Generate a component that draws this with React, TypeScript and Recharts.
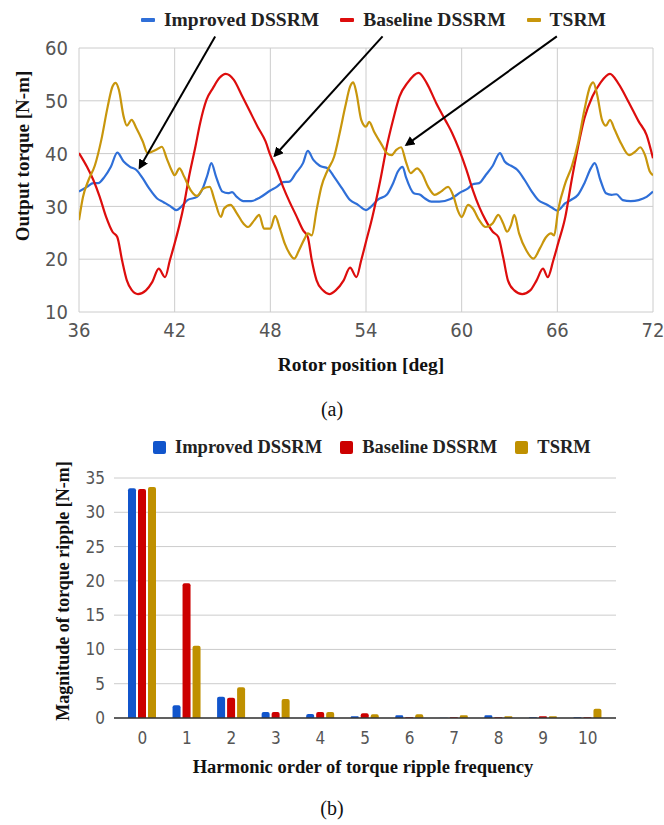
import React from 'react';
import {
  LineChart,
  Line,
  BarChart,
  Bar,
  XAxis,
  YAxis,
  CartesianGrid,
  Legend,
  Label,
  ReferenceLine,
} from 'recharts';

// (a) torque waveforms: rotor position [deg] / torque [N-m]
const improvedPos = [36, 36.5, 36.9, 37.2, 37.6, 38, 38.4, 38.8, 39.2, 39.6, 40, 40.4, 40.9, 41.3, 41.7, 42.1, 42.4, 42.8, 43.4, 43.8, 44.05, 44.3, 44.6, 45, 45.35, 45.6, 45.9, 46.3, 46.8, 47.3, 48, 48.4, 48.8, 49.2, 49.6, 50.05, 50.35, 50.7, 51.1, 51.6, 52, 52.5, 53, 53.5, 54, 54.3, 54.75, 55.3, 55.7, 56, 56.3, 56.5, 57, 57.4, 57.7, 58.1, 58.6, 59.3, 60, 60.4, 60.7, 61.1, 61.5, 61.95, 62.4, 62.7, 63.1, 63.5, 63.95, 64.4, 64.8, 65.3, 65.7, 66, 66.5, 66.9, 67.3, 67.7, 68.1, 68.35, 68.7, 69.05, 69.4, 69.7, 70.1, 70.6, 71.1, 71.6, 72];
const improvedTorque = [32.8, 33.7, 34.4, 34.4, 35.6, 37.5, 40.2, 38.5, 37.5, 36.9, 35.3, 33.4, 31.5, 30.8, 30.1, 29.3, 29.9, 31.2, 31.8, 33.7, 35.9, 38.2, 35.6, 32.8, 32.5, 32.7, 31.8, 31.0, 31.0, 31.6, 33.0, 33.7, 34.6, 34.7, 36.3, 38.2, 40.5, 38.8, 37.7, 37.2, 35.6, 33.4, 31.2, 30.3, 29.3, 29.9, 31.3, 32.2, 34.4, 36.6, 37.5, 35.6, 32.5, 32.2, 31.5, 30.9, 30.9, 31.4, 32.8, 33.4, 34.2, 34.4, 35.9, 37.7, 40.1, 38.5, 37.7, 36.9, 35.0, 32.8, 31.2, 30.4, 29.7, 29.2, 30.6, 31.3, 32.2, 34.4, 37.2, 38.2, 35.0, 32.5, 32.2, 32.3, 31.2, 31.0, 31.2, 31.8, 32.8];

const baselinePos = [36, 36.5, 36.9, 37.3, 37.7, 38.1, 38.4, 38.7, 39, 39.3, 39.7, 40.2, 40.6, 41, 41.4, 41.7, 42, 42.3, 42.6, 42.9, 43.3, 43.6, 44, 44.4, 44.8, 45.2, 45.7, 46.2, 46.7, 47.2, 47.7, 48, 48.4, 48.8, 49.2, 49.6, 50.05, 50.35, 50.6, 50.9, 51.3, 51.7, 52.1, 52.6, 53, 53.4, 53.7, 54, 54.4, 54.9, 55.3, 55.7, 56.1, 56.6, 57.3, 57.8, 58.4, 59, 59.4, 59.85, 60.3, 60.7, 61.1, 61.5, 61.95, 62.3, 62.6, 62.9, 63.3, 63.8, 64.3, 64.7, 65.1, 65.4, 65.75, 66.05, 66.5, 66.9, 67.3, 67.7, 68.2, 68.7, 69.3, 69.8, 70.5, 71.1, 71.6, 72];
const baselineTorque = [40.1, 37.5, 35.0, 31.8, 28.0, 25.2, 24.2, 19.8, 16.0, 14.2, 13.4, 14.1, 15.7, 18.2, 16.6, 19.8, 23.0, 26.5, 30.6, 35.6, 41.3, 45.8, 50.2, 52.4, 54.3, 55.1, 54.0, 51.1, 48.1, 45.1, 42.3, 39.7, 36.9, 33.7, 30.9, 28.4, 25.5, 24.2, 19.8, 16.0, 14.1, 13.4, 14.1, 16.0, 18.4, 16.6, 19.8, 23.3, 28.0, 35.0, 41.3, 46.4, 50.8, 53.4, 55.3, 53.4, 49.6, 46.2, 43.9, 40.7, 36.9, 33.1, 29.9, 27.4, 25.2, 24.2, 20.4, 16.0, 14.1, 13.4, 14.1, 16.0, 18.2, 16.6, 19.8, 23.0, 28.0, 35.0, 41.3, 46.7, 50.8, 53.4, 55.1, 53.4, 49.6, 46.1, 43.5, 39.1];

const tsrmPos = [36, 36.25, 36.6, 37, 37.4, 37.8, 38.1, 38.3, 38.5, 38.8, 39, 39.3, 39.6, 40, 40.3, 40.6, 41, 41.2, 41.5, 41.8, 42, 42.3, 42.6, 43, 43.4, 43.8, 44.2, 44.5, 44.9, 45.1, 45.5, 45.9, 46.3, 46.6, 47, 47.3, 47.6, 48, 48.3, 48.6, 48.9, 49.2, 49.5, 49.8, 50.15, 50.35, 50.6, 50.9, 51.2, 51.6, 52, 52.35, 52.7, 53, 53.2, 53.4, 53.7, 54, 54.2, 54.5, 55, 55.3, 55.6, 55.9, 56.2, 56.5, 56.8, 57.2, 57.5, 57.9, 58.3, 58.7, 59.15, 59.5, 59.75, 60, 60.4, 60.7, 61.1, 61.5, 61.95, 62.3, 62.6, 62.85, 63.1, 63.3, 63.6, 64.05, 64.5, 64.9, 65.3, 65.6, 65.8, 66.05, 66.5, 66.9, 67.3, 67.7, 68.05, 68.25, 68.5, 68.8, 69.05, 69.3, 69.6, 70, 70.5, 70.9, 71.2, 71.5, 71.8, 72];
const tsrmTorque = [27.4, 31.8, 35.0, 37.8, 42.6, 48.9, 52.7, 53.4, 52.1, 47.0, 45.3, 46.4, 44.8, 42.3, 40.1, 40.4, 41.0, 41.3, 39.1, 36.9, 35.9, 37.2, 35.6, 33.1, 32.0, 33.4, 33.7, 31.2, 28.0, 29.6, 30.3, 28.7, 26.8, 26.1, 27.4, 28.4, 25.8, 25.8, 28.2, 25.8, 23.0, 21.1, 20.1, 21.7, 23.9, 24.9, 24.5, 29.3, 33.7, 36.9, 39.4, 43.9, 48.9, 52.7, 53.5, 51.5, 46.4, 45.1, 46.0, 44.2, 41.6, 40.1, 39.7, 40.7, 41.2, 38.5, 36.3, 37.2, 36.3, 33.7, 32.2, 32.8, 33.7, 31.8, 29.3, 28.0, 30.3, 29.6, 27.4, 26.1, 26.8, 28.4, 26.8, 25.2, 26.5, 28.4, 24.9, 21.7, 20.1, 22.0, 24.2, 24.9, 24.5, 29.3, 34.4, 37.5, 42.0, 48.3, 52.7, 53.5, 51.1, 46.4, 45.3, 46.4, 44.5, 41.9, 39.7, 40.4, 41.2, 39.7, 36.6, 35.9];

const positionTicks = [36, 42, 48, 54, 60, 66, 72];
const torqueTicks = [10, 20, 30, 40, 50, 60];

// arrows pointing from the legend down to each curve: [fromX, fromY, toX, toY]
const arrows = [
  [44.54, 62.2, 39.8, 37.3],
  [55.04, 62.2, 48.27, 39.6],
  [65.97, 62.2, 56.53, 41.65],
];

// (b) torque ripple harmonics [N-m]
const harmonics = ['0', '1', '2', '3', '4', '5', '6', '7', '8', '9', '10'];
const improvedRipple = [33.5, 1.85, 3.1, 0.87, 0.58, 0.25, 0.4, 0.02, 0.4, 0.1, 0.1];
const baselineRipple = [33.4, 19.65, 2.95, 0.87, 0.87, 0.68, 0.1, 0.1, 0.1, 0.24, 0.1];
const tsrmRipple = [33.7, 10.55, 4.5, 2.76, 0.87, 0.53, 0.53, 0.39, 0.24, 0.24, 1.35];
const rippleTicks = [0, 5, 10, 15, 20, 25, 30, 35];

const seriesNames = ['Improved DSSRM', 'Baseline DSSRM', 'TSRM'];

const serif = '"Liberation Serif", "Times New Roman", serif';
const narrow = '"Liberation Sans Narrow", "Arial Narrow", "DejaVu Sans Condensed", "Liberation Sans", sans-serif';

const toPoints = (xs: number[], ys: number[]) => xs.map((x, i) => ({ x, y: ys[i] }));
const improvedData = toPoints(improvedPos, improvedTorque);
const baselineData = toPoints(baselinePos, baselineTorque);
const tsrmData = toPoints(tsrmPos, tsrmTorque);

const rippleData = harmonics.map((h, i) => ({
  h,
  improved: improvedRipple[i],
  baseline: baselineRipple[i],
  tsrm: tsrmRipple[i],
}));

const LegendRow = ({ payload, icon, fontSize, gap }: any) => {
  const items = [...(payload || [])].sort(
    (a: any, b: any) => seriesNames.indexOf(a.value) - seriesNames.indexOf(b.value)
  );
  return (
    <div
      style={{
        display: 'flex',
        alignItems: 'center',
        fontFamily: serif,
        fontWeight: 'bold',
        fontSize,
        color: '#222',
        whiteSpace: 'nowrap',
      }}
    >
      {items.map((entry: any, i: number) => (
        <div key={i} style={{ display: 'flex', alignItems: 'center', marginLeft: i ? gap : 0 }}>
          {icon === 'line' ? (
            <span style={{ width: 14, height: 4, background: entry.color, marginRight: 9, borderRadius: 1 }} />
          ) : (
            <span style={{ width: 13, height: 13, background: entry.color, marginRight: 9, borderRadius: 2 }} />
          )}
          <span>{entry.value}</span>
        </div>
      ))}
    </div>
  );
};

// rotated axis title placed inside the y-axis strip
const sideTitle = (text: string, dx: number, dy: number, fontSize: number) => (props: any) => {
  const vb = props.viewBox || {};
  const x = (vb.x || 0) + dx;
  const y = (vb.y || 0) + (vb.height || 0) / 2 + dy;
  return (
    <text
      x={x}
      y={y}
      transform={`rotate(-90 ${x} ${y})`}
      textAnchor="middle"
      dominantBaseline="central"
      fontFamily={serif}
      fontWeight="bold"
      fontSize={fontSize}
      fill="#111"
    >
      {text}
    </text>
  );
};

const arrowShape = (props: any) => (
  <line
    x1={props.x1}
    y1={props.y1}
    x2={props.x2}
    y2={props.y2}
    stroke="#000"
    strokeWidth={2}
    markerEnd="url(#arrowHead)"
  />
);

const titleStyle = { fill: '#111', fontFamily: serif, fontWeight: 'bold' as const };

export default function App() {
  return (
    <div style={{ position: 'absolute', left: 0, top: 0, width: 664, height: 825, background: '#fff' }}>
      <svg width={0} height={0} style={{ position: 'absolute' }}>
        <defs>
          <marker id="arrowHead" viewBox="0 0 10 10" refX={8} refY={5} markerWidth={5} markerHeight={5} orient="auto">
            <path d="M0,0 L10,5 L0,10 z" fill="#000" />
          </marker>
        </defs>
      </svg>

      <div style={{ position: 'absolute', left: 0, top: 0 }}>
        <LineChart width={664} height={395} margin={{ top: 48, right: 11, bottom: 53, left: 0 }}>
          <CartesianGrid stroke="#cccccc" />
          <XAxis
            type="number"
            dataKey="x"
            domain={[36, 72]}
            ticks={positionTicks}
            axisLine={false}
            tickLine={false}
            tickMargin={5}
            height={30}
            tick={{ fontSize: 20, fill: '#555', fontFamily: narrow }}
            allowDataOverflow
          >
            <Label value="Rotor position [deg]" position="bottom" offset={15} dx={-5} style={{ ...titleStyle, fontSize: 19.5 }} />
          </XAxis>
          <YAxis
            type="number"
            domain={[10, 60]}
            ticks={torqueTicks}
            axisLine={false}
            tickLine={false}
            tickMargin={5}
            width={79}
            tick={{ fontSize: 20, fill: '#555', fontFamily: narrow }}
          >
            <Label content={sideTitle('Output torque [N-m]', 22, -24, 19)} />
          </YAxis>
          <Legend
            verticalAlign="middle"
            wrapperStyle={{ top: 9, left: 141, width: 'auto' }}
            content={(p: any) => <LegendRow payload={p.payload} icon="line" fontSize={19.5} gap={21} />}
          />
          <Line data={improvedData} dataKey="y" name="Improved DSSRM" type="monotone" stroke="#2f6fd8" strokeWidth={2.2} dot={false} isAnimationActive={false} />
          <Line data={baselineData} dataKey="y" name="Baseline DSSRM" type="monotone" stroke="#dd0d0d" strokeWidth={2.2} dot={false} isAnimationActive={false} />
          <Line data={tsrmData} dataKey="y" name="TSRM" type="monotone" stroke="#c8960c" strokeWidth={2.2} dot={false} isAnimationActive={false} />
          {arrows.map((a, i) => (
            <ReferenceLine
              key={i}
              segment={[{ x: a[0], y: a[1] }, { x: a[2], y: a[3] }]}
              ifOverflow="visible"
              shape={arrowShape}
            />
          ))}
        </LineChart>
      </div>

      <div style={{ position: 'absolute', left: 0, top: 398, width: 664, textAlign: 'center', fontFamily: serif, fontSize: 20, color: '#111' }}>
        (a)
      </div>

      <div style={{ position: 'absolute', left: 0, top: 420 }}>
        <BarChart
          width={664}
          height={405}
          data={rippleData}
          margin={{ top: 58, right: 48, bottom: 67, left: 0 }}
          barSize={8}
          barGap={2}
        >
          <CartesianGrid stroke="#cccccc" vertical={false} />
          <XAxis
            dataKey="h"
            axisLine={{ stroke: '#333', strokeWidth: 1.5 }}
            tickLine={false}
            tickMargin={8}
            height={40}
            padding={{ left: 6, right: 6 }}
            tick={{ fontSize: 17, fill: '#555', fontFamily: narrow }}
          >
            <Label value="Harmonic order of torque ripple frequency" position="bottom" offset={2} dx={-2} style={{ ...titleStyle, fontSize: 18.5 }} />
          </XAxis>
          <YAxis
            domain={[0, 35]}
            ticks={rippleTicks}
            axisLine={false}
            tickLine={false}
            tickMargin={3}
            width={114}
            tick={{ fontSize: 17, fill: '#555', fontFamily: narrow }}
          >
            <Label content={sideTitle('Magnitude of torque ripple [N-m]', 63, -7, 18)} />
          </YAxis>
          <Legend
            verticalAlign="middle"
            wrapperStyle={{ top: 17, left: 153, width: 'auto' }}
            content={(p: any) => <LegendRow payload={p.payload} icon="square" fontSize={18.5} gap={18} />}
          />
          <Bar dataKey="improved" name="Improved DSSRM" fill="#1155cc" radius={[2, 2, 0, 0]} isAnimationActive={false} />
          <Bar dataKey="baseline" name="Baseline DSSRM" fill="#cc0000" radius={[2, 2, 0, 0]} isAnimationActive={false} />
          <Bar dataKey="tsrm" name="TSRM" fill="#bf9000" radius={[2, 2, 0, 0]} isAnimationActive={false} />
        </BarChart>
      </div>

      <div style={{ position: 'absolute', left: 0, top: 797, width: 664, textAlign: 'center', fontFamily: serif, fontSize: 20, color: '#111' }}>
        (b)
      </div>
    </div>
  );
}
